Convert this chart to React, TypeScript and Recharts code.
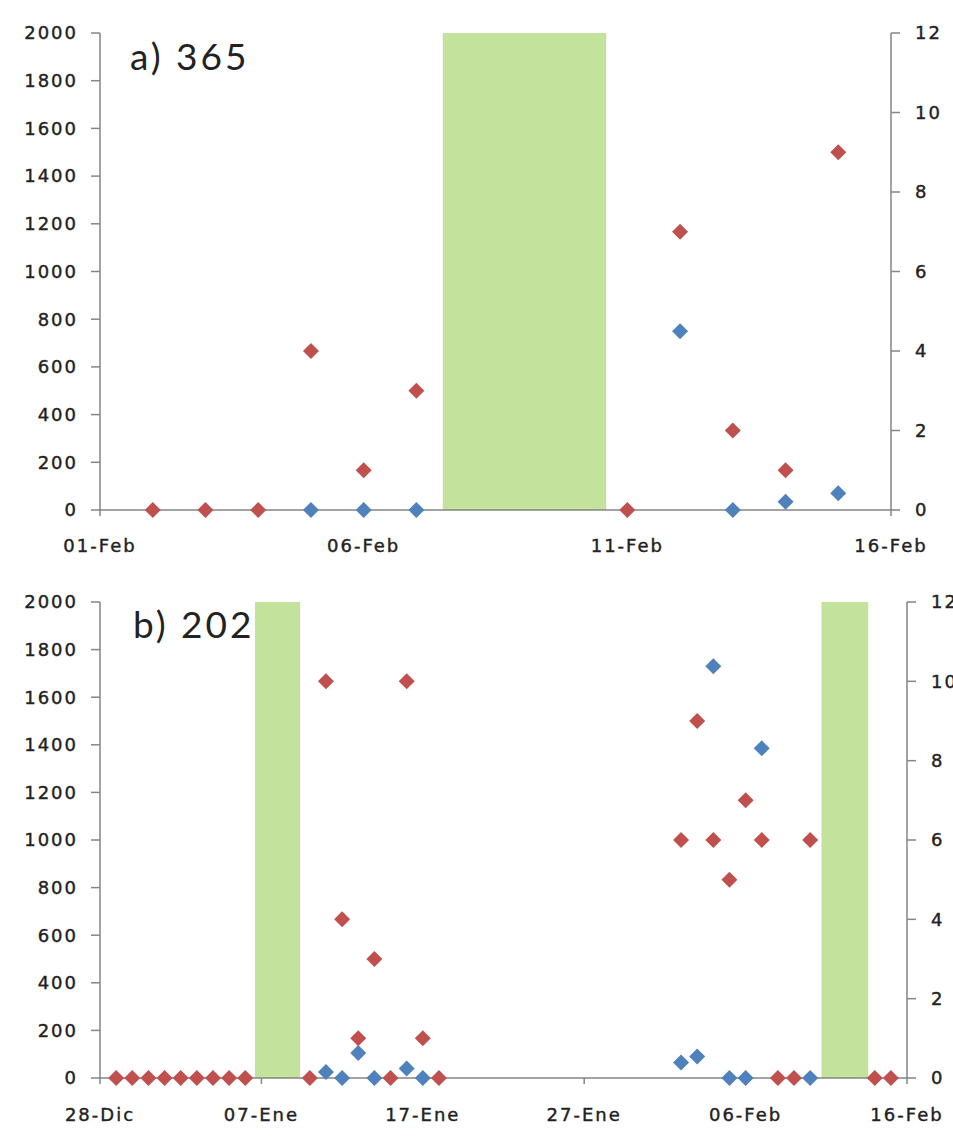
import { ScatterChart, Scatter, XAxis, YAxis, ReferenceArea } from 'recharts';

// left axis (blue series) and right axis (red series)
const leftTicks = [0, 200, 400, 600, 800, 1000, 1200, 1400, 1600, 1800, 2000];
const rightTicks = [0, 2, 4, 6, 8, 10, 12];

// panel a) — days counted from 01-Feb
const topTickDays = [0, 5, 10, 15];
const topTickLabels = ['01-Feb', '06-Feb', '11-Feb', '16-Feb'];
const topRedDays = [1, 2, 3, 4, 5, 6, 10, 11, 12, 13, 14];
const topRedValues = [0, 0, 0, 4, 1, 3, 0, 7, 2, 1, 9];
const topBlueDays = [4, 5, 6, 11, 12, 13, 14];
const topBlueValues = [0, 0, 0, 750, 0, 35, 70];
const topGreenStart = [6.5];
const topGreenEnd = [9.6];
const topGreenValue = [2000];

// panel b) — days counted from 28-Dic
const botTickDays = [0, 10, 20, 30, 40, 50];
const botTickLabels = ['28-Dic', '07-Ene', '17-Ene', '27-Ene', '06-Feb', '16-Feb'];
const botRedDays = [1, 2, 3, 4, 5, 6, 7, 8, 9, 13, 14, 15, 16, 17, 18, 19, 20, 21, 36, 37, 38, 39, 40, 41, 42, 43, 44, 48, 49];
const botRedValues = [0, 0, 0, 0, 0, 0, 0, 0, 0, 0, 10, 4, 1, 3, 0, 10, 1, 0, 6, 9, 6, 5, 7, 6, 0, 0, 6, 0, 0];
const botBlueDays = [14, 15, 16, 17, 19, 20, 36, 37, 38, 39, 40, 41, 44];
const botBlueValues = [25, 0, 105, 0, 40, 0, 65, 90, 1730, 0, 0, 1385, 0];
const botGreenStart = [9.6, 44.7];
const botGreenEnd = [12.4, 47.6];
const botGreenValue = [2000, 2000];

const RED = '#c0504d';
const BLUE = '#4f81bd';
const GREEN = '#c3e29b';
const AXIS = '#858585';

const tickFont = {
  fill: '#222',
  stroke: '#222',
  strokeWidth: 0.4,
  fontSize: 18,
  fontFamily: 'DejaVu Sans',
  letterSpacing: 2,
};

const Diamond = (props: any) => {
  const { cx, cy, fill } = props;
  if (cx == null || cy == null) return null;
  const r = 8;
  return <polygon points={`${cx},${cy - r} ${cx + r},${cy} ${cx},${cy + r} ${cx - r},${cy}`} fill={fill} />;
};

const toPoints = (days: number[], values: number[]) => days.map((d, i) => ({ x: d, y: values[i] }));

type PanelProps = {
  height: number;
  marginTop: number;
  xAxisHeight: number;
  rightWidth: number;
  xMax: number;
  tickDays: number[];
  tickLabels: string[];
  tickMargin: number;
  redDays: number[];
  redValues: number[];
  blueDays: number[];
  blueValues: number[];
  greenStart: number[];
  greenEnd: number[];
  greenValue: number[];
};

function Panel(p: PanelProps) {
  return (
    <ScatterChart width={953} height={p.height} margin={{ top: p.marginTop, right: 0, bottom: 0, left: 0 }}>
      <XAxis
        type="number"
        dataKey="x"
        domain={[0, p.xMax]}
        ticks={p.tickDays}
        interval={0}
        tickFormatter={(v: number) => p.tickLabels[p.tickDays.indexOf(v)]}
        height={p.xAxisHeight}
        stroke={AXIS}
        strokeWidth={1.5}
        tickSize={6}
        tickMargin={p.tickMargin}
        tick={tickFont}
      />
      <YAxis
        yAxisId="L"
        type="number"
        dataKey="y"
        domain={[0, 2000]}
        ticks={leftTicks}
        interval={0}
        width={100}
        stroke={AXIS}
        strokeWidth={1.5}
        tickSize={9}
        tickMargin={13}
        tick={tickFont}
      />
      <YAxis
        yAxisId="R"
        orientation="right"
        type="number"
        dataKey="y"
        domain={[0, 12]}
        ticks={rightTicks}
        interval={0}
        width={p.rightWidth}
        stroke={AXIS}
        strokeWidth={1.5}
        tickSize={9}
        tickMargin={15}
        tick={tickFont}
      />
      {p.greenStart.map((s, i) => (
        <ReferenceArea
          key={i}
          yAxisId="L"
          x1={s}
          x2={p.greenEnd[i]}
          y1={0}
          y2={p.greenValue[i]}
          fill={GREEN}
          fillOpacity={1}
          stroke="none"
        />
      ))}
      <Scatter yAxisId="L" data={toPoints(p.blueDays, p.blueValues)} fill={BLUE} shape={Diamond} isAnimationActive={false} />
      <Scatter yAxisId="R" data={toPoints(p.redDays, p.redValues)} fill={RED} shape={Diamond} isAnimationActive={false} />
    </ScatterChart>
  );
}

const titleStyle: React.CSSProperties = {
  position: 'absolute',
  fontFamily: 'Lato',
  fontSize: 37,
  letterSpacing: 3,
  lineHeight: '36px',
  color: '#222',
};

export default function App() {
  return (
    <div style={{ position: 'absolute', left: 0, top: 0, width: 953, height: 1139, overflow: 'hidden', background: '#fff' }}>
      <div style={{ position: 'absolute', left: 0, top: 0 }}>
        <Panel
          height={560}
          marginTop={33}
          xAxisHeight={50}
          rightWidth={62}
          xMax={15}
          tickDays={topTickDays}
          tickLabels={topTickLabels}
          tickMargin={23}
          redDays={topRedDays}
          redValues={topRedValues}
          blueDays={topBlueDays}
          blueValues={topBlueValues}
          greenStart={topGreenStart}
          greenEnd={topGreenEnd}
          greenValue={topGreenValue}
        />
      </div>
      <div style={{ position: 'absolute', left: 0, top: 560 }}>
        <Panel
          height={579}
          marginTop={42}
          xAxisHeight={61}
          rightWidth={46}
          xMax={50}
          tickDays={botTickDays}
          tickLabels={botTickLabels}
          tickMargin={24}
          redDays={botRedDays}
          redValues={botRedValues}
          blueDays={botBlueDays}
          blueValues={botBlueValues}
          greenStart={botGreenStart}
          greenEnd={botGreenEnd}
          greenValue={botGreenValue}
        />
      </div>
      <div style={{ ...titleStyle, left: 130, top: 38 }}>a) 365</div>
      <div style={{ ...titleStyle, left: 133, top: 606 }}>b) 202</div>
    </div>
  );
}
